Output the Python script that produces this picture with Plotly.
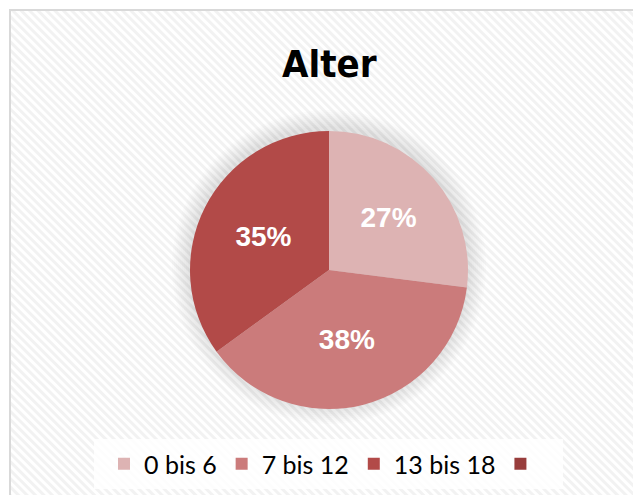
import base64
import plotly.graph_objects as go

# ---- data ----
categories = ["0 bis 6", "7 bis 12", "13 bis 18", " "]
values = [27, 38, 35, 0]
colors = ["#DDB3B3", "#CB7B7B", "#B24A48", "#983D3C"]
title_text = "Alter"

W, H = 633, 495

# hatched chart-area background as an inline SVG pattern
svg = f'''<svg xmlns="http://www.w3.org/2000/svg" width="{W}" height="{H}">
<defs><pattern id="p" width="6" height="6" patternUnits="userSpaceOnUse" patternTransform="rotate(-45)">
<rect width="6" height="6" fill="#ffffff"/><rect width="3" height="6" fill="#f2f2f2"/></pattern></defs>
<rect x="0" y="0" width="{W}" height="{H}" fill="url(#p)"/></svg>'''
src = "data:image/svg+xml;base64," + base64.b64encode(svg.encode()).decode()

cx, cy, r = 329, 270, 139

def px(x):
    return x / W

def py(y):
    return 1 - y / H

fig = go.Figure()
fig.add_trace(go.Pie(
    labels=categories,
    values=values,
    sort=False,
    direction="clockwise",
    rotation=0,
    marker=dict(colors=colors, line=dict(width=0)),
    textinfo="percent",
    textposition="inside",
    insidetextorientation="horizontal",
    textfont=dict(family="Liberation Sans", size=28, color="white", weight="bold"),
    domain=dict(x=[px(cx - r), px(cx + r)], y=[py(cy + r), py(cy - r)]),
    hoverinfo="label+percent",
))

shapes = []
# chart border
shapes.append(dict(type="rect", xref="paper", yref="paper",
                   x0=px(10), x1=px(W + 5), y0=py(H + 5), y1=py(10),
                   line=dict(color="#d9d9d9", width=2), fillcolor="rgba(0,0,0,0)", layer="below"))
# soft shadow around the pie
for d in range(18, 0, -2):
    shapes.append(dict(type="circle", xref="paper", yref="paper",
                       x0=px(cx - r - d), x1=px(cx + r + d),
                       y0=py(cy + r + d - 3), y1=py(cy - r - d - 3),
                       line=dict(width=0), fillcolor="rgba(140,140,140,0.024)", layer="below"))
# legend box
shapes.append(dict(type="rect", xref="paper", yref="paper",
                   x0=px(94), x1=px(563), y0=py(489), y1=py(439),
                   line=dict(width=0), fillcolor="rgba(255,255,255,0.85)", layer="below"))

fig.update_layout(
    width=W, height=H,
    margin=dict(l=0, r=0, t=0, b=0),
    paper_bgcolor="white",
    images=[dict(source=src, xref="paper", yref="paper", x=px(10), y=py(10),
                 sizex=px(W - 10) + 0.01, sizey=py(10) + 0.01,
                 sizing="stretch", layer="below", xanchor="left", yanchor="top")],
    shapes=shapes,
    annotations=[dict(text=f"<b>{title_text}</b>", x=px(329), y=py(64), xref="paper", yref="paper",
                      showarrow=False, xanchor="center", yanchor="middle",
                      font=dict(family="DejaVu Sans Condensed, Roboto", size=38, color="black"))],
    showlegend=True,
    legend=dict(orientation="h", x=px(328), xanchor="center", y=py(464), yanchor="middle",
                bgcolor="rgba(0,0,0,0)",
                font=dict(family="Lato", size=25, color="black"), traceorder="normal"),
)

fig.write_html("out.html", config={"displayModeBar": False},
               post_script="document.body.style.margin='0';document.body.style.overflow='hidden';")
